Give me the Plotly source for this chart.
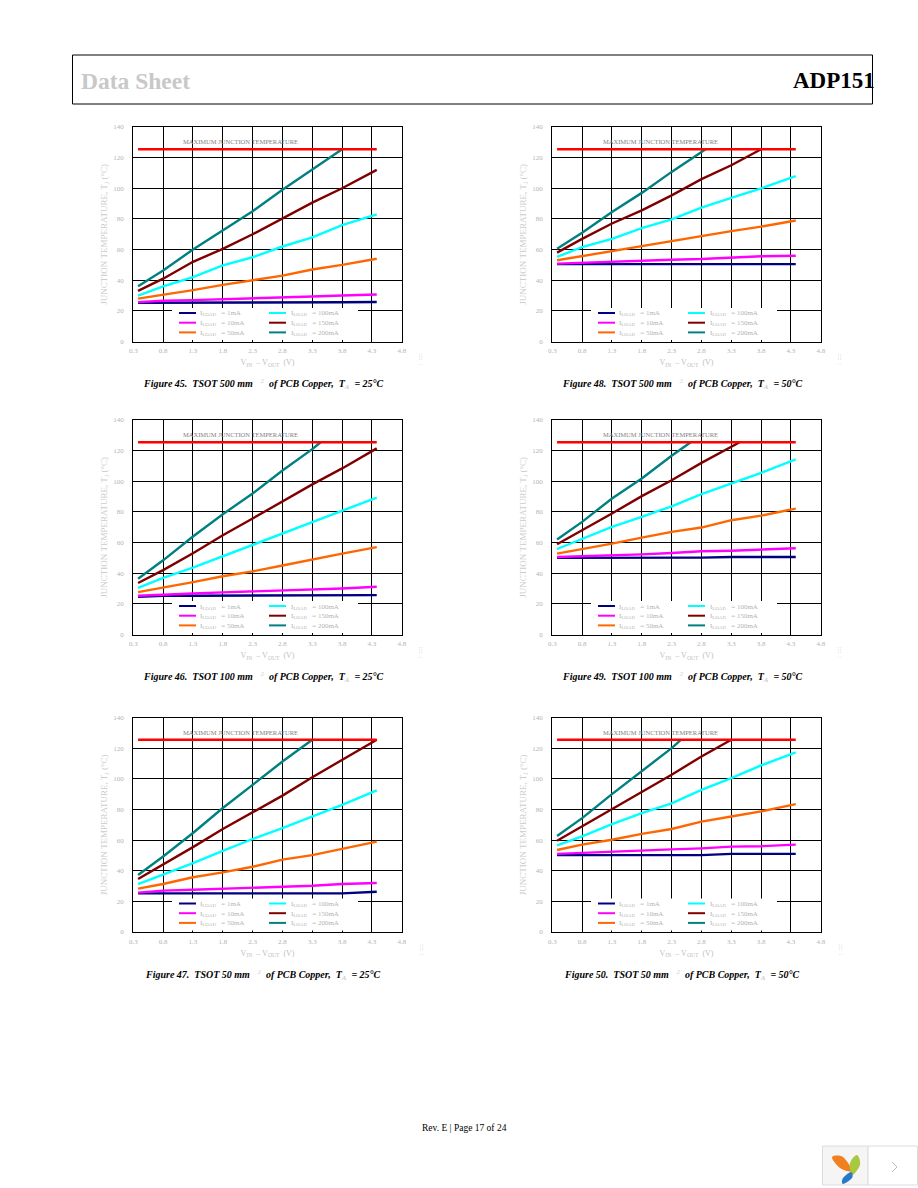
import plotly.graph_objects as go

W, H = 918, 1188

# ---------- data ----------
V_GRID = [0.38, 0.8, 1.3, 1.8, 2.3, 2.8, 3.3, 3.8, 4.38]
X_TICKS = [0.3, 0.8, 1.3, 1.8, 2.3, 2.8, 3.3, 3.8, 4.3, 4.8]
Y_TICKS = [0, 20, 40, 60, 80, 100, 120, 140]
MAX_TJ = 125.5
LOADS = ["1mA", "10mA", "50mA", "100mA", "150mA", "200mA"]

fig45_1 = [25.3, 25.3, 25.3, 25.3, 25.3, 25.3, 25.5, 25.6, 25.8]
fig45_10 = [25.7, 26.6, 27.0, 27.5, 28.0, 28.5, 29.4, 30.0, 30.7]
fig45_50 = [28.0, 30.5, 33.5, 37.0, 40.0, 43.0, 47.0, 50.0, 54.0]
fig45_100 = [30.0, 36.0, 42.0, 49.7, 55.0, 62.0, 68.0, 76.0, 83.0]
fig45_150 = [33.0, 41.0, 52.0, 60.5, 70.0, 80.5, 90.6, 100.0, 112.0]
fig45_200 = [36.0, 46.4, 60.0, 72.5, 85.0, 99.0, 112.0, 125.5]
fig45_200_v = [0.38, 0.8, 1.3, 1.8, 2.3, 2.8, 3.3, 3.8]

fig46_1 = [24.6, 25.3, 25.3, 25.3, 25.3, 25.3, 25.3, 25.3, 25.7]
fig46_10 = [25.3, 26.2, 26.8, 27.5, 28.1, 28.8, 29.4, 30.0, 31.2]
fig46_50 = [27.7, 30.5, 34.2, 38.0, 41.2, 45.0, 49.0, 52.8, 57.0]
fig46_100 = [30.5, 36.9, 43.6, 51.0, 58.7, 66.3, 73.3, 81.0, 89.4]
fig46_150 = [33.6, 42.0, 53.0, 64.8, 75.7, 87.0, 98.0, 108.4, 121.5]
fig46_200 = [36.4, 48.4, 64.0, 78.5, 92.0, 107.0, 121.0, 125.5]
fig46_200_v = [0.38, 0.8, 1.3, 1.8, 2.3, 2.8, 3.3, 3.44]

fig47_1 = [25.2, 25.2, 25.2, 25.2, 25.2, 25.2, 25.2, 25.2, 26.3]
fig47_10 = [25.7, 27.0, 27.6, 28.3, 28.7, 29.8, 30.2, 31.3, 32.0]
fig47_50 = [28.3, 31.3, 35.7, 38.9, 42.6, 47.2, 50.2, 54.3, 59.0]
fig47_100 = [31.3, 37.4, 45.0, 53.0, 60.7, 67.8, 75.4, 83.0, 92.4]
fig47_150 = [34.6, 43.9, 55.4, 67.2, 78.3, 89.0, 101.0, 112.4, 125.5]
fig47_200 = [37.2, 49.3, 64.6, 80.9, 96.0, 111.3, 125.5]
fig47_200_v = [0.38, 0.8, 1.3, 1.8, 2.3, 2.8, 3.3]

fig48_1 = [50.5, 50.5, 50.5, 50.5, 50.5, 50.5, 50.5, 50.5, 50.5]
fig48_10 = [50.8, 51.4, 51.9, 53.0, 53.4, 53.8, 54.7, 55.6, 56.0]
fig48_50 = [53.0, 55.8, 58.8, 62.0, 65.4, 69.0, 72.0, 75.0, 79.0]
fig48_100 = [55.3, 61.6, 67.0, 74.0, 79.7, 87.4, 93.7, 100.0, 108.0]
fig48_150 = [58.0, 67.0, 77.0, 85.6, 95.4, 106.0, 115.0, 125.5]
fig48_150_v = [0.38, 0.8, 1.3, 1.8, 2.3, 2.8, 3.3, 3.8]
fig48_200 = [60.5, 71.0, 84.5, 97.0, 110.7, 123.7, 125.5]
fig48_200_v = [0.38, 0.8, 1.3, 1.8, 2.3, 2.8, 2.87]

fig49_1 = [50.0, 50.0, 50.0, 50.0, 50.0, 50.2, 50.6, 50.6, 50.6]
fig49_10 = [50.6, 51.0, 51.9, 52.3, 53.2, 54.3, 54.7, 55.4, 56.3]
fig49_50 = [52.8, 55.6, 59.3, 63.2, 67.0, 69.8, 74.6, 77.6, 82.2]
fig49_100 = [55.8, 62.6, 70.2, 76.8, 83.7, 91.6, 98.6, 105.5, 114.3]
fig49_150 = [58.9, 68.0, 79.0, 90.3, 100.7, 112.0, 122.5, 125.5]
fig49_150_v = [0.38, 0.8, 1.3, 1.8, 2.3, 2.8, 3.3, 3.44]
fig49_200 = [62.0, 73.5, 88.8, 101.8, 116.7, 125.5]
fig49_200_v = [0.38, 0.8, 1.3, 1.8, 2.3, 2.62]

fig50_1 = [50.2, 50.2, 50.2, 50.2, 50.2, 50.2, 51.0, 51.0, 51.0]
fig50_10 = [51.0, 51.7, 52.6, 53.5, 53.9, 54.6, 55.7, 56.0, 57.0]
fig50_50 = [53.5, 57.0, 60.2, 64.0, 67.2, 72.0, 75.4, 78.7, 83.5]
fig50_100 = [56.5, 62.4, 70.4, 77.6, 84.0, 92.8, 100.4, 108.7, 117.2]
fig50_150 = [59.6, 68.9, 80.4, 91.3, 102.6, 114.6, 125.5]
fig50_150_v = [0.38, 0.8, 1.3, 1.8, 2.3, 2.8, 3.3]
fig50_200 = [62.6, 74.3, 90.0, 104.8, 120.0, 125.5]
fig50_200_v = [0.38, 0.8, 1.3, 1.8, 2.3, 2.46]

COLORS = ["#000080", "#ff00ff", "#ff6600", "#00ffff", "#800000", "#008080"]
RED = "#ff0000"
SERIF = "Liberation Serif"
GRAY = "#b4b4b4"

PANELS = [
    ("45", "500", "25", 133.3, 127, [fig45_1, fig45_10, fig45_50, fig45_100, fig45_150, fig45_200],
     [V_GRID, V_GRID, V_GRID, V_GRID, V_GRID, fig45_200_v], 263),
    ("46", "100", "25", 133.3, 420, [fig46_1, fig46_10, fig46_50, fig46_100, fig46_150, fig46_200],
     [V_GRID, V_GRID, V_GRID, V_GRID, V_GRID, fig46_200_v], 263),
    ("47", "50", "25", 133.3, 717.5, [fig47_1, fig47_10, fig47_50, fig47_100, fig47_150, fig47_200],
     [V_GRID, V_GRID, V_GRID, V_GRID, V_GRID, fig47_200_v], 263),
    ("48", "500", "50", 552.3, 127, [fig48_1, fig48_10, fig48_50, fig48_100, fig48_150, fig48_200],
     [V_GRID, V_GRID, V_GRID, V_GRID, fig48_150_v, fig48_200_v], 682),
    ("49", "100", "50", 552.3, 420, [fig49_1, fig49_10, fig49_50, fig49_100, fig49_150, fig49_200],
     [V_GRID, V_GRID, V_GRID, V_GRID, fig49_150_v, fig49_200_v], 682),
    ("50", "50", "50", 552.3, 717.5, [fig50_1, fig50_10, fig50_50, fig50_100, fig50_150, fig50_200],
     [V_GRID, V_GRID, V_GRID, V_GRID, fig50_150_v, fig50_200_v], 682),
]
PW, PH = 268.5, 214.5


def px(x):
    return x / W


def py(y):
    return 1 - y / H


fig = go.Figure()
shapes, annos = [], []
axes = {}


def paper_line(x0, y0, x1, y1, color, width):
    shapes.append(dict(type="line", xref="paper", yref="paper", x0=px(x0), y0=py(y0), x1=px(x1), y1=py(y1),
                       line=dict(color=color, width=width), layer="above"))


def paper_rect(x0, y0, x1, y1, fill, line=None, width=0):
    shapes.append(dict(type="rect", xref="paper", yref="paper", x0=px(x0), y0=py(y0), x1=px(x1), y1=py(y1),
                       fillcolor=fill, line=dict(color=line or fill, width=width), layer="above"))


def text(x, y, s, size, color=GRAY, anchor="left", angle=0, family=SERIF):
    annos.append(dict(xref="paper", yref="paper", x=px(x), y=py(y), text=s, showarrow=False, textangle=angle,
                      xanchor=anchor, yanchor="middle", font=dict(family=family, size=size, color=color),
                      borderpad=0, align=anchor))


for i, (num, mm, ta, left, top, series, xs, capx) in enumerate(PANELS):
    k = "" if i == 0 else str(i + 1)
    xa, ya = "x" + k, "y" + k
    axes["xaxis" + k] = dict(
        domain=[px(left), px(left + PW)], range=[0.3, 4.8], anchor=ya, tickvals=X_TICKS,
        ticktext=[f"{v:.1f}" for v in X_TICKS], showgrid=True, gridcolor="#000000", gridwidth=1,
        showline=True, linecolor="#000000", linewidth=1.2, mirror=True, zeroline=False, ticks="", automargin=False,
        tickfont=dict(family=SERIF, size=7, color=GRAY), ticklabelstandoff=2,
        title=dict(text="V<sub>IN</sub>\u00a0 – V<sub>OUT</sub>\u00a0 (V)", standoff=5,
                   font=dict(family=SERIF, size=8, color="#c0c0c0")))
    axes["yaxis" + k] = dict(
        domain=[py(top + PH), py(top)], range=[0, 140], anchor=xa, tickvals=Y_TICKS,
        showgrid=True, gridcolor="#000000", gridwidth=1,
        showline=True, linecolor="#000000", linewidth=1.2, mirror=True, zeroline=False, ticks="", automargin=False,
        tickfont=dict(family=SERIF, size=7, color=GRAY), ticklabelstandoff=7,
        title=dict(text="JUNCTION TEMPERATURE, T<sub>J</sub> (°C)", standoff=4,
                   font=dict(family=SERIF, size=9, color="#cccccc")))

    for name, color, xv, yv in zip(LOADS, COLORS, xs, series):
        fig.add_trace(go.Scatter(x=xv, y=yv, mode="lines", name=f"ILOAD = {name}", xaxis=xa, yaxis=ya,
                                 line=dict(color=color, width=2.4), showlegend=False))
    fig.add_trace(go.Scatter(x=[V_GRID[0], V_GRID[-1]], y=[MAX_TJ, MAX_TJ], mode="lines", xaxis=xa, yaxis=ya,
                             line=dict(color=RED, width=2.4), showlegend=False, name="Max TJ"))

    # legend panel
    off = left - 133.3
    paper_rect(172 + off, top + 181, 358 + off, top + PH - 1.5, "#ffffff")
    for col, (kx, tx) in enumerate([(179, 199), (269, 290)]):
        for row in range(3):
            idx = col * 3 + row
            ry = top + 186 + row * 9.7
            paper_line(kx + off, ry, kx + 17 + off, ry, COLORS[idx], 2)
            text(tx + off, ry + 0.5, f"I<sub>LOAD</sub>\u00a0\u00a0\u00a0= {LOADS[idx]}", 7)
    text(241 + off, top + 15, "MAXIMUM JUNCTION TEMPERATURE", 6.5, "#808080", "center")
    text(420 + off, top + 232, ":\u00a0\u00a0::::", 6, "#c4c4c4", "center", -90)
    cap = (f"<b><i>Figure {num}.\u00a0 TSOT {mm} mm\u00a0\u00a0\u00a0<sup><span style='color:#dddddd'>2</span></sup>\u00a0\u00a0"
           f"of PCB Copper,\u00a0 T<sub><span style='color:#cccccc'>A</span></sub>\u00a0\u00a0= {ta}°C</i></b>")
    annos.append(dict(xref="paper", yref="paper", x=px(capx), y=py(top + 257), text=cap, showarrow=False,
                      xanchor="center", yanchor="middle", font=dict(family=SERIF, size=10, color="#000000")))

# page header
paper_rect(72.5, 55, 872.5, 104, "rgba(0,0,0,0)", "#000000", 1)
text(80, 81, "<b>Data Sheet</b>", 23.5, "#c8c8c8")
text(792, 81, "<b>ADP151</b>", 23, "#000000")
# footer
text(464, 1128, "Rev. E | Page 17 of 24", 9.5, "#000000", "center")

# corner widget
paper_rect(822.5, 1146, 868, 1185, "#f5f5f5", "#dcdcdc", 1)
paper_rect(868, 1146, 917.5, 1185, "#ffffff", "#dcdcdc", 1)
paper_line(892, 1162, 897, 1167, "#bdbdbd", 1)
paper_line(897, 1167, 892, 1172, "#bdbdbd", 1)


def blob(pts, color):
    # closed outline through four anchor points with smooth cubic segments
    d = f"M{px(pts[0][0])},{py(pts[0][1])}"
    n = len(pts)
    for j in range(n):
        p, q = pts[j], pts[(j + 1) % n]
        prev, nxt = pts[j - 1], pts[(j + 2) % n]
        c1 = (p[0] + (q[0] - prev[0]) / 6, p[1] + (q[1] - prev[1]) / 6)
        c2 = (q[0] - (nxt[0] - p[0]) / 6, q[1] - (nxt[1] - p[1]) / 6)
        d += f" C{px(c1[0])},{py(c1[1])} {px(c2[0])},{py(c2[1])} {px(q[0])},{py(q[1])}"
    shapes.append(dict(type="path", xref="paper", yref="paper", path=d + " Z", fillcolor=color,
                       line=dict(width=0), layer="above"))


blob([(832, 1157), (843, 1157), (852, 1171), (840, 1168)], "#f08020")
blob([(857, 1155), (860, 1165), (852, 1175), (850, 1163)], "#a8c840")
blob([(851, 1172), (852, 1178), (843, 1184), (843, 1178)], "#2a78c8")

fig.update_layout(width=W, height=H, autosize=False, margin=dict(l=0, r=0, t=0, b=0), paper_bgcolor="#ffffff",
                  plot_bgcolor="#ffffff", showlegend=False, shapes=shapes, annotations=annos, **axes)

fig.write_html("out.html", config={"displayModeBar": False},
               post_script="document.body.style.margin='0';document.documentElement.style.overflow='hidden';window.dispatchEvent(new Event('resize'));")
